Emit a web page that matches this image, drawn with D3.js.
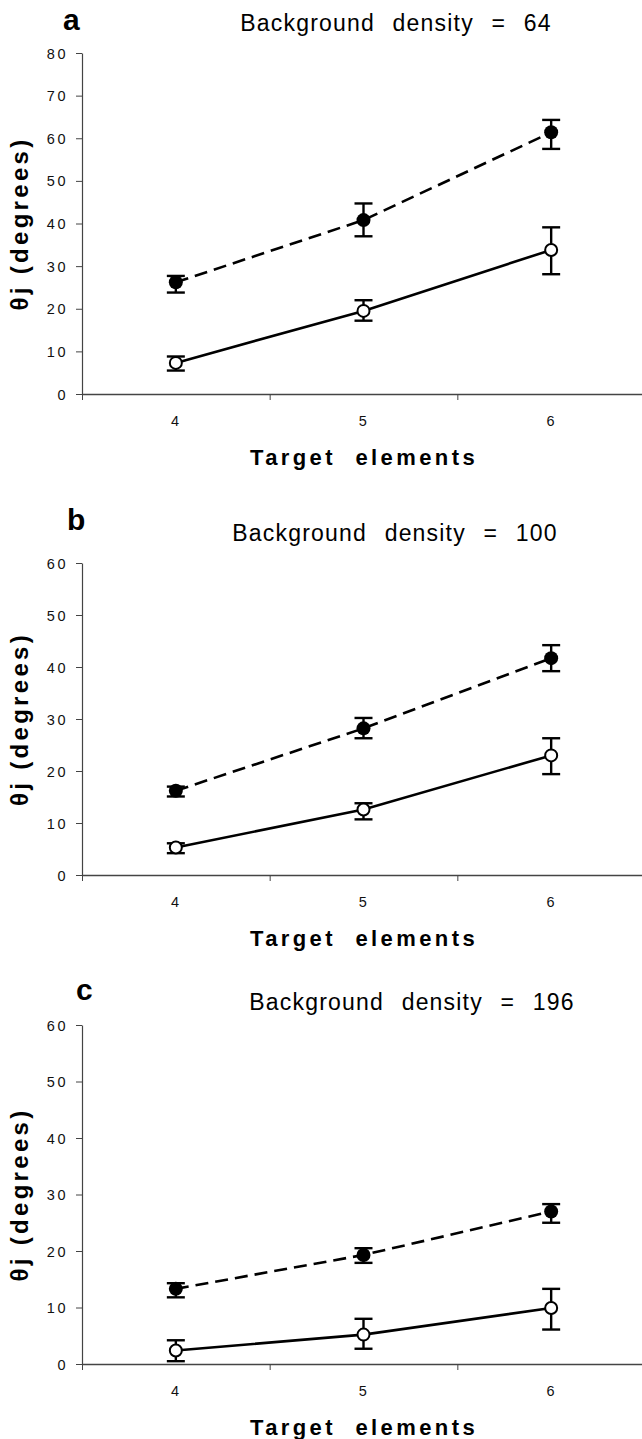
<!DOCTYPE html>
<html>
<head>
<meta charset="utf-8">
<script src="https://cdn.jsdelivr.net/npm/d3@7"></script>
<style>
  body { margin: 0; background: #fff; }
  svg { display: block; font-family: "Liberation Sans", Arial, sans-serif; }
  .axis path, .axis line { stroke: #444; }
  .axis text { font-size: 14.5px; fill: #111; letter-spacing: 2.5px; }
</style>
</head>
<body>
<svg id="chart" width="642" height="1439"></svg>
<script>
// categories (number of target elements)
var targets = [4, 5, 6];
var letters = ["a", "b", "c"];
var densities = [64, 100, 196];
var yMaxes = [80, 60, 60];

// panel a, density 64
var aFilled   = [26.2, 40.8, 61.4];
var aFilledLo = [23.8, 37.0, 57.5];
var aFilledHi = [27.7, 44.7, 64.3];
var aOpen     = [7.3, 19.5, 33.8];
var aOpenLo   = [5.5, 17.2, 28.1];
var aOpenHi   = [8.8, 22.0, 39.1];

// panel b, density 100
var bFilled   = [16.2, 28.2, 41.7];
var bFilledLo = [15.1, 26.3, 39.2];
var bFilledHi = [17.0, 30.2, 44.2];
var bOpen     = [5.3, 12.6, 23.0];
var bOpenLo   = [4.2, 10.7, 19.4];
var bOpenHi   = [6.1, 13.8, 26.3];

// panel c, density 196
var cFilled   = [13.3, 19.3, 27.0];
var cFilledLo = [11.8, 17.9, 25.0];
var cFilledHi = [14.3, 20.5, 28.3];
var cOpen     = [2.4, 5.2, 9.9];
var cOpenLo   = [0.5, 2.7, 6.1];
var cOpenHi   = [4.2, 8.0, 13.3];

var svg = d3.select("#chart");

// pixel layout of each panel (y axis top / x axis, letter & title placement)
var layout = [
  { top: 53,   bottom: 394,  letterX: 63, letterUp: 23, titleX: 396, titleUp: 22 },
  { top: 563,  bottom: 875,  letterX: 67, letterUp: 33, titleX: 395, titleUp: 22 },
  { top: 1025, bottom: 1364, letterX: 76, letterUp: 25, titleX: 412, titleUp: 15 }
];

var series = [
  [aFilled, aFilledLo, aFilledHi, aOpen, aOpenLo, aOpenHi],
  [bFilled, bFilledLo, bFilledHi, bOpen, bOpenLo, bOpenHi],
  [cFilled, cFilledLo, cFilledHi, cOpen, cOpenLo, cOpenHi]
];

// x 軸: categories sit in the middle of equal bands
var x = d3.scaleLinear()
  .domain([3.5, 6.5])
  .range([82, 645]);

function pts(mean, lo, hi) {
  return targets.map(function(t, i) {
    return { t: t, v: mean[i], lo: lo[i], hi: hi[i] };
  });
}

function drawPanel(p) {
  var L = layout[p];
  var s = series[p];
  var g = svg.append("g");

  var y = d3.scaleLinear()
    .domain([0, yMaxes[p]])
    .range([L.bottom, L.top]);

  // y axis
  var yAxis = d3.axisLeft(y)
    .tickValues(d3.range(0, yMaxes[p] + 1, 10))
    .tickSize(6)
    .tickSizeOuter(0);
  var gy = g.append("g")
    .attr("class", "axis")
    .attr("transform", "translate(" + x(3.5) + ",0)")
    .call(yAxis);
  gy.select(".domain").attr("stroke-width", 1.2);
  gy.selectAll(".tick text").attr("x", -14).attr("dy", "0.35em");

  // x axis: boundary ticks
  var xAxis = d3.axisBottom(x)
    .tickValues([3.5, 4.5, 5.5])
    .tickSize(6)
    .tickSizeOuter(0)
    .tickFormat("");
  var gx = g.append("g")
    .attr("class", "axis")
    .attr("transform", "translate(0," + L.bottom + ")")
    .call(xAxis);
  gx.select(".domain").attr("stroke", "#777").attr("stroke-width", 1.5);

  // x labels
  var xLab = d3.axisBottom(x)
    .tickValues(targets)
    .tickSize(0)
    .tickPadding(22)
    .tickFormat(d3.format("d"));
  var gl = g.append("g")
    .attr("class", "axis")
    .attr("transform", "translate(0," + L.bottom + ")")
    .call(xLab);
  gl.select(".domain").remove();

  // lines
  var line = d3.line()
    .x(function(d) { return x(d.t); })
    .y(function(d) { return y(d.v); });

  var filled = pts(s[0], s[1], s[2]);
  var open = pts(s[3], s[4], s[5]);

  g.append("path")
    .datum(filled)
    .attr("d", line)
    .attr("fill", "none")
    .attr("stroke", "#000")
    .attr("stroke-width", 2.6)
    .attr("stroke-dasharray", "13,7");

  g.append("path")
    .datum(open)
    .attr("d", line)
    .attr("fill", "none")
    .attr("stroke", "#000")
    .attr("stroke-width", 2.6);

  // error bars
  [filled, open].forEach(function(set) {
    var eb = g.selectAll(null)
      .data(set)
      .enter().append("g")
      .attr("stroke", "#000")
      .attr("stroke-width", 2.4);
    eb.append("line")
      .attr("x1", function(d) { return x(d.t); })
      .attr("x2", function(d) { return x(d.t); })
      .attr("y1", function(d) { return y(d.lo); })
      .attr("y2", function(d) { return y(d.hi); });
    eb.append("line")
      .attr("x1", function(d) { return x(d.t) - 9; })
      .attr("x2", function(d) { return x(d.t) + 9; })
      .attr("y1", function(d) { return y(d.lo); })
      .attr("y2", function(d) { return y(d.lo); });
    eb.append("line")
      .attr("x1", function(d) { return x(d.t) - 9; })
      .attr("x2", function(d) { return x(d.t) + 9; })
      .attr("y1", function(d) { return y(d.hi); })
      .attr("y2", function(d) { return y(d.hi); });
  });

  // markers
  g.selectAll(null)
    .data(filled)
    .enter().append("circle")
    .attr("cx", function(d) { return x(d.t); })
    .attr("cy", function(d) { return y(d.v); })
    .attr("r", 7)
    .attr("fill", "#000");

  g.selectAll(null)
    .data(open)
    .enter().append("circle")
    .attr("cx", function(d) { return x(d.t); })
    .attr("cy", function(d) { return y(d.v); })
    .attr("r", 6)
    .attr("fill", "#fff")
    .attr("stroke", "#000")
    .attr("stroke-width", 2);

  // panel letter
  g.append("text")
    .attr("x", L.letterX)
    .attr("y", L.top - L.letterUp)
    .attr("font-size", 30)
    .attr("font-weight", "bold")
    .text(letters[p]);

  // title
  g.append("text")
    .attr("x", L.titleX)
    .attr("y", L.top - L.titleUp)
    .attr("text-anchor", "middle")
    .attr("font-size", 23)
    .attr("letter-spacing", "1.2px")
    .attr("word-spacing", "10px")
    .text("Background density = " + densities[p]);

  // y label
  var cy = (L.top + L.bottom) / 2;
  g.append("text")
    .attr("transform", "translate(28," + cy + ") rotate(-90)")
    .attr("text-anchor", "middle")
    .attr("font-size", 24)
    .attr("font-weight", "bold")
    .attr("letter-spacing", "3.3px")
    .text("θj (degrees)");

  // x label
  g.append("text")
    .attr("x", 364)
    .attr("y", L.bottom + 71)
    .attr("text-anchor", "middle")
    .attr("font-size", 22)
    .attr("font-weight", "bold")
    .attr("letter-spacing", "3.4px")
    .attr("word-spacing", "10px")
    .text("Target elements");
}

for (var p = 0; p < 3; p++) {
  drawPanel(p);
}
</script>
</body>
</html>
